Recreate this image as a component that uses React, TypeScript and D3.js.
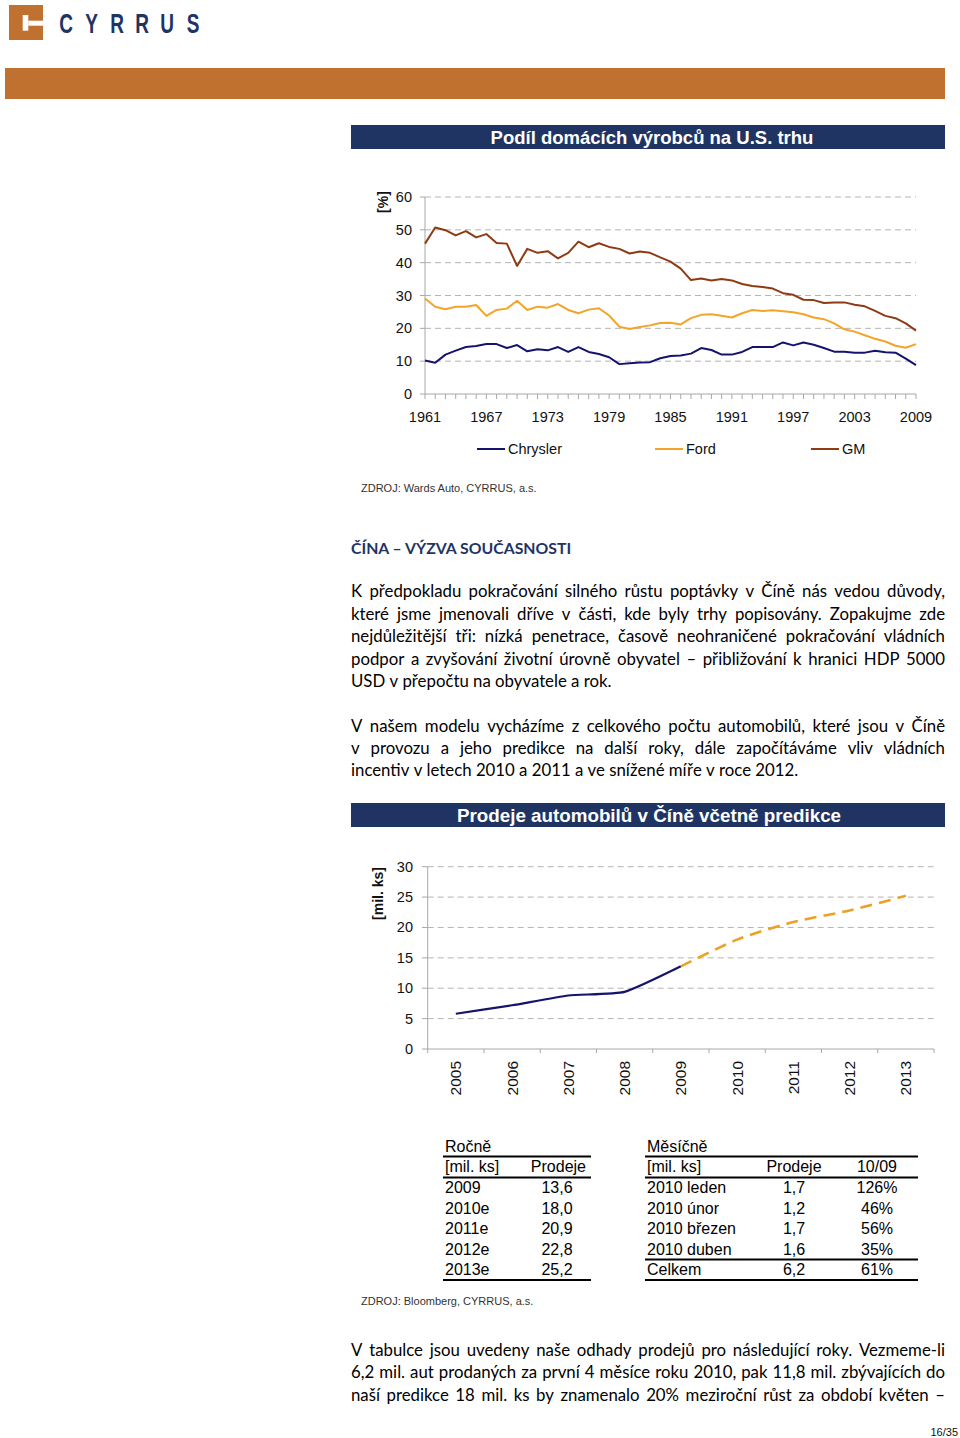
import React from 'react';
import * as d3 from 'd3';

// ---------- DATA ----------
const US_YEARS = d3.range(1961, 2010);
const CHRYSLER = [10.2, 9.5, 12.0, 13.2, 14.3, 14.6, 15.2, 15.2, 14.0, 14.9, 13.0, 13.6, 13.3, 14.3, 12.8, 14.3, 12.8, 12.2, 11.2, 9.1, 9.4, 9.6, 9.7, 10.9, 11.6, 11.7, 12.3, 14.0, 13.4, 12.0, 12.0, 12.8, 14.3, 14.3, 14.3, 15.7, 14.8, 15.7, 15.0, 14.0, 12.9, 12.9, 12.6, 12.6, 13.2, 12.7, 12.6, 10.8, 8.8];
const FORD = [29.1, 26.6, 25.8, 26.6, 26.6, 27.1, 23.8, 25.6, 26.0, 28.4, 25.6, 26.6, 26.3, 27.4, 25.6, 24.6, 25.7, 26.1, 23.9, 20.5, 19.8, 20.4, 20.9, 21.6, 21.7, 21.2, 23.1, 24.1, 24.3, 23.8, 23.3, 24.6, 25.6, 25.3, 25.5, 25.2, 24.9, 24.3, 23.3, 22.8, 21.5, 19.7, 19.0, 17.9, 16.8, 16.0, 14.7, 14.1, 15.2];
const GM = [45.8, 50.7, 49.9, 48.3, 49.6, 47.7, 48.7, 46.0, 45.8, 39.0, 44.2, 43.0, 43.5, 41.3, 43.0, 46.4, 44.7, 45.9, 44.8, 44.2, 42.8, 43.4, 43.0, 41.6, 40.3, 38.2, 34.7, 35.2, 34.6, 35.0, 34.6, 33.5, 32.9, 32.6, 32.1, 30.7, 30.2, 28.7, 28.6, 27.7, 27.9, 27.9, 27.2, 26.7, 25.3, 23.8, 23.1, 21.5, 19.3];
const US_X_TICKS = [1961, 1967, 1973, 1979, 1985, 1991, 1997, 2003, 2009];
const US_Y_TICKS = [0, 10, 20, 30, 40, 50, 60];
const US_SERIES = ['Chrysler', 'Ford', 'GM'];

const CN_YEARS = ['2005', '2006', '2007', '2008', '2009', '2010', '2011', '2012', '2013'];
const CN_ACTUAL_YEARS = ['2005', '2006', '2007', '2008', '2009'];
const CN_ACTUAL = [5.8, 7.2, 8.8, 9.4, 13.6];
const CN_FORECAST_YEARS = ['2009', '2010', '2011', '2012', '2013'];
const CN_FORECAST = [13.6, 18.0, 20.9, 22.8, 25.2];
const CN_Y_TICKS = [0, 5, 10, 15, 20, 25, 30];

const ANNUAL_ROWS = ['2009', '2010e', '2011e', '2012e', '2013e'];
const ANNUAL_SALES = ['13,6', '18,0', '20,9', '22,8', '25,2'];
const MONTH_ROWS = ['2010 leden', '2010 únor', '2010 březen', '2010 duben', 'Celkem'];
const MONTH_SALES = ['1,7', '1,2', '1,7', '1,6', '6,2'];
const MONTH_YOY = ['126%', '46%', '56%', '35%', '61%'];

const PARA1 = [
  'K předpokladu pokračování silného růstu poptávky v Číně nás vedou důvody,',
  'které jsme jmenovali dříve v části, kde byly trhy popisovány. Zopakujme zde',
  'nejdůležitější tři: nízká penetrace, časově neohraničené pokračování vládních',
  'podpor a zvyšování životní úrovně obyvatel – přibližování k hranici HDP 5000',
  'USD v přepočtu na obyvatele a rok.',
];
const PARA2 = [
  'V našem modelu vycházíme z celkového počtu automobilů, které jsou v Číně',
  'v provozu a jeho predikce na další roky, dále započítáváme vliv vládních',
  'incentiv v letech 2010 a 2011 a ve snížené míře v roce 2012.',
];
const PARA3 = [
  'V tabulce jsou uvedeny naše odhady prodejů pro následující roky. Vezmeme-li',
  '6,2 mil. aut prodaných za první 4 měsíce roku 2010, pak 11,8 mil. zbývajících do',
  'naší predikce 18 mil. ks by znamenalo 20% meziroční růst za období květen –',
];

// ---------- STYLE ----------
const NAVY = '#1F3463';
const ORANGE_BAND = '#C0702F';
const C_CHRYSLER = '#14146E';
const C_FORD = '#F4A42A';
const C_GM = '#8E3A12';
const GRID = '#B4B4B4';
const AXIS = '#A8A8A8';
const SANS = 'Liberation Sans, Arial, sans-serif';
const BODY = 'Lato';
const BODY_SIZE = 16.8;

let _ctx: CanvasRenderingContext2D | null = null;
function measure(text: string, font: string) {
  if (!_ctx) _ctx = document.createElement('canvas').getContext('2d');
  _ctx!.font = font;
  return _ctx!.measureText(text).width;
}

function Line({ text, x, y, width, justify, size, weight = 'normal', fill = '#000' }: any) {
  const words = text.split(' ');
  const font = `${weight} ${size}px ${BODY}`;
  const ws = words.map((w: string) => measure(w, font));
  const sp = measure(' ', font);
  const total = ws.reduce((a: number, b: number) => a + b, 0);
  const gap = justify && words.length > 1 ? (width - total) / (words.length - 1) : sp;
  let cx = x;
  return (
    <text y={y} fontFamily={BODY} fontSize={size} fontWeight={weight} fill={fill}>
      {words.map((w: string, i: number) => {
        const px = cx;
        cx += ws[i] + gap;
        return <tspan key={i} x={px}>{w}</tspan>;
      })}
    </text>
  );
}

function Paragraph({ lines, y0, lh, justifyLast = false }: any) {
  return (
    <g>
      {lines.map((t: string, i: number) => (
        <Line key={i} text={t} x={351} y={y0 + i * lh} width={594} justify={justifyLast || i < lines.length - 1} size={BODY_SIZE} />
      ))}
    </g>
  );
}

function USChart() {
  const x = d3.scaleLinear().domain([1961, 2009]).range([425, 916]);
  const y = d3.scaleLinear().domain([0, 60]).range([394, 197]);
  const line = d3.line<number>().x((_, i) => x(US_YEARS[i])).y((d) => y(d));
  const series = [CHRYSLER, FORD, GM];
  const colors = [C_CHRYSLER, C_FORD, C_GM];
  const legendX = [477, 655, 811];
  return (
    <g>
      {US_Y_TICKS.filter((t) => t > 0).map((t) => (
        <g key={t}>
          <line x1={425} x2={916} y1={y(t)} y2={y(t)} stroke={GRID} strokeDasharray="6,4" />
          <line x1={420} x2={425} y1={y(t)} y2={y(t)} stroke={AXIS} />
        </g>
      ))}
      <line x1={425} x2={425} y1={y(60)} y2={y(0)} stroke={AXIS} />
      <line x1={420} x2={916} y1={y(0)} y2={y(0)} stroke={AXIS} />
      {US_YEARS.map((yr) => (
        <line key={yr} x1={x(yr)} x2={x(yr)} y1={y(0)} y2={y(0) + 5} stroke={AXIS} />
      ))}
      {US_Y_TICKS.map((t) => (
        <text key={t} x={412} y={y(t) + 5} textAnchor="end" fontFamily={SANS} fontSize={14.5} fill="#111">{t}</text>
      ))}
      {US_X_TICKS.map((t) => (
        <text key={t} x={x(t)} y={421.5} textAnchor="middle" fontFamily={SANS} fontSize={14.5} fill="#111">{t}</text>
      ))}
      <text transform="translate(388,202) rotate(-90)" textAnchor="middle" fontFamily={SANS} fontWeight="bold" fontSize={14} fill="#111">[%]</text>
      {series.map((s, i) => (
        <path key={i} d={line(s) || ''} fill="none" stroke={colors[i]} strokeWidth={2} strokeLinejoin="round" />
      ))}
      {US_SERIES.map((name, i) => (
        <g key={name}>
          <line x1={legendX[i]} x2={legendX[i] + 28} y1={449} y2={449} stroke={colors[i]} strokeWidth={2} />
          <text x={legendX[i] + 31} y={454} fontFamily={SANS} fontSize={14.5} fill="#111">{name}</text>
        </g>
      ))}
    </g>
  );
}

function CNChart() {
  const x = d3.scaleBand<string>().domain(CN_YEARS).range([427.7, 934]);
  const y = d3.scaleLinear().domain([0, 30]).range([1049, 866.7]);
  const cx = (yr: string) => (x(yr) || 0) + x.bandwidth() / 2;
  const lineA = d3.line<number>().x((_, i) => cx(CN_ACTUAL_YEARS[i])).y((d) => y(d)).curve(d3.curveCardinal.tension(0.5));
  const lineF = d3.line<number>().x((_, i) => cx(CN_FORECAST_YEARS[i])).y((d) => y(d)).curve(d3.curveCardinal.tension(0.3));
  const bounds = CN_YEARS.map((yr) => x(yr) || 0).concat([934]);
  return (
    <g>
      {CN_Y_TICKS.filter((t) => t > 0).map((t) => (
        <g key={t}>
          <line x1={427.7} x2={934} y1={y(t)} y2={y(t)} stroke={GRID} strokeDasharray="6,4" />
          <line x1={422} x2={427.7} y1={y(t)} y2={y(t)} stroke={AXIS} />
        </g>
      ))}
      <line x1={427.7} x2={427.7} y1={y(30)} y2={y(0)} stroke={AXIS} />
      <line x1={422} x2={934} y1={y(0)} y2={y(0)} stroke={AXIS} />
      {bounds.map((b, i) => (
        <line key={i} x1={b} x2={b} y1={y(0)} y2={y(0) + 4} stroke={AXIS} />
      ))}
      {CN_Y_TICKS.map((t) => (
        <text key={t} x={413} y={y(t) + 5} textAnchor="end" fontFamily={SANS} fontSize={14.5} fill="#111">{t}</text>
      ))}
      {CN_YEARS.map((yr) => (
        <text key={yr} transform={`translate(${cx(yr)},1061) rotate(-90)`} textAnchor="end" dominantBaseline="central" fontFamily={SANS} fontSize={15.5} fill="#111">{yr}</text>
      ))}
      <text transform="translate(383,893.5) rotate(-90)" textAnchor="middle" fontFamily={SANS} fontWeight="bold" fontSize={14} fill="#111">[mil. ks]</text>
      <path d={lineA(CN_ACTUAL) || ''} fill="none" stroke={C_CHRYSLER} strokeWidth={2.2} />
      <path d={lineF(CN_FORECAST) || ''} fill="none" stroke="#EBA224" strokeWidth={2.6} strokeDasharray="12,7" />
    </g>
  );
}

function Tables() {
  const rowY = [1193, 1213.5, 1234, 1254.5, 1275];
  const fs = 16;
  const T = (p: any) => <text fontFamily={SANS} fontSize={fs} fill="#000" {...p} />;
  return (
    <g>
      {/* annual */}
      <T x={445} y={1152}>Ročně</T>
      <line x1={443} x2={591} y1={1156.5} y2={1156.5} stroke="#000" strokeWidth={1.8} />
      <T x={445} y={1172}>[mil. ks]</T>
      <T x={586} y={1172} textAnchor="end">Prodeje</T>
      <line x1={443} x2={591} y1={1177.5} y2={1177.5} stroke="#000" strokeWidth={1.8} />
      {ANNUAL_ROWS.map((r, i) => (
        <g key={r}>
          <T x={445} y={rowY[i]}>{r}</T>
          <T x={557} y={rowY[i]} textAnchor="middle">{ANNUAL_SALES[i]}</T>
        </g>
      ))}
      <line x1={443} x2={591} y1={1280} y2={1280} stroke="#000" strokeWidth={2} />
      {/* monthly */}
      <T x={647} y={1152}>Měsíčně</T>
      <line x1={645} x2={918} y1={1156.5} y2={1156.5} stroke="#000" strokeWidth={1.8} />
      <T x={647} y={1172}>[mil. ks]</T>
      <T x={794} y={1172} textAnchor="middle">Prodeje</T>
      <T x={877} y={1172} textAnchor="middle">10/09</T>
      <line x1={645} x2={918} y1={1177.5} y2={1177.5} stroke="#000" strokeWidth={1.8} />
      {MONTH_ROWS.map((r, i) => (
        <g key={r}>
          <T x={647} y={rowY[i]}>{r}</T>
          <T x={794} y={rowY[i]} textAnchor="middle">{MONTH_SALES[i]}</T>
          <T x={877} y={rowY[i]} textAnchor="middle">{MONTH_YOY[i]}</T>
        </g>
      ))}
      <line x1={645} x2={918} y1={1259.5} y2={1259.5} stroke="#000" strokeWidth={1.8} />
      <line x1={645} x2={918} y1={1280} y2={1280} stroke="#000" strokeWidth={2} />
    </g>
  );
}

export default function App() {
  const logoLetters = ['C', 'Y', 'R', 'R', 'U', 'S'];
  const logoX = [66, 91.5, 117, 142, 167, 193];
  return (
    <svg width={960} height={1438} style={{ position: 'absolute', left: 0, top: 0, background: '#fff' }}>
      <rect width={960} height={1438} fill="#fff" />
      {/* logo */}
      <rect x={9} y={5} width={34} height={35} fill={ORANGE_BAND} />
      <rect x={22.7} y={15} width={5.6} height={15.7} fill="#fff" />
      <rect x={28.3} y={20.7} width={15} height={5} fill="#fff" />
      {logoLetters.map((l, i) => (
        <text key={i} transform={`translate(${logoX[i]},33) scale(0.68,1)`} textAnchor="middle" fontFamily={SANS} fontWeight="bold" fontSize={28} fill={NAVY}>{l}</text>
      ))}
      <rect x={5} y={68} width={940} height={31} fill={ORANGE_BAND} />

      {/* chart 1 */}
      <rect x={351} y={125} width={594} height={24} fill={NAVY} />
      <text x={652} y={143.5} textAnchor="middle" fontFamily={SANS} fontWeight="bold" fontSize={18.5} fill="#fff">Podíl domácích výrobců na U.S. trhu</text>
      <USChart />
      <text x={361} y={492} fontFamily={SANS} fontSize={11} fill="#333">ZDROJ: Wards Auto, CYRRUS, a.s.</text>

      {/* heading & text */}
      <text x={351} y={553.5} fontFamily={BODY} fontWeight="bold" fontSize={15.8} fill={NAVY}>ČÍNA – VÝZVA SOUČASNOSTI</text>
      <Paragraph lines={PARA1} y0={597} lh={22.5} />
      <Paragraph lines={PARA2} y0={731.5} lh={22.3} />

      {/* chart 2 */}
      <rect x={351} y={803} width={594} height={24} fill={NAVY} />
      <text x={649} y={821.5} textAnchor="middle" fontFamily={SANS} fontWeight="bold" fontSize={18.8} fill="#fff">Prodeje automobilů v Číně včetně predikce</text>
      <CNChart />

      <Tables />
      <text x={361} y={1305} fontFamily={SANS} fontSize={11} fill="#333">ZDROJ: Bloomberg, CYRRUS, a.s.</text>

      <Paragraph lines={PARA3} y0={1356} lh={22.3} justifyLast={true} />
      <text x={958} y={1436} textAnchor="end" fontFamily={SANS} fontSize={11} fill="#111">16/35</text>
    </svg>
  );
}
